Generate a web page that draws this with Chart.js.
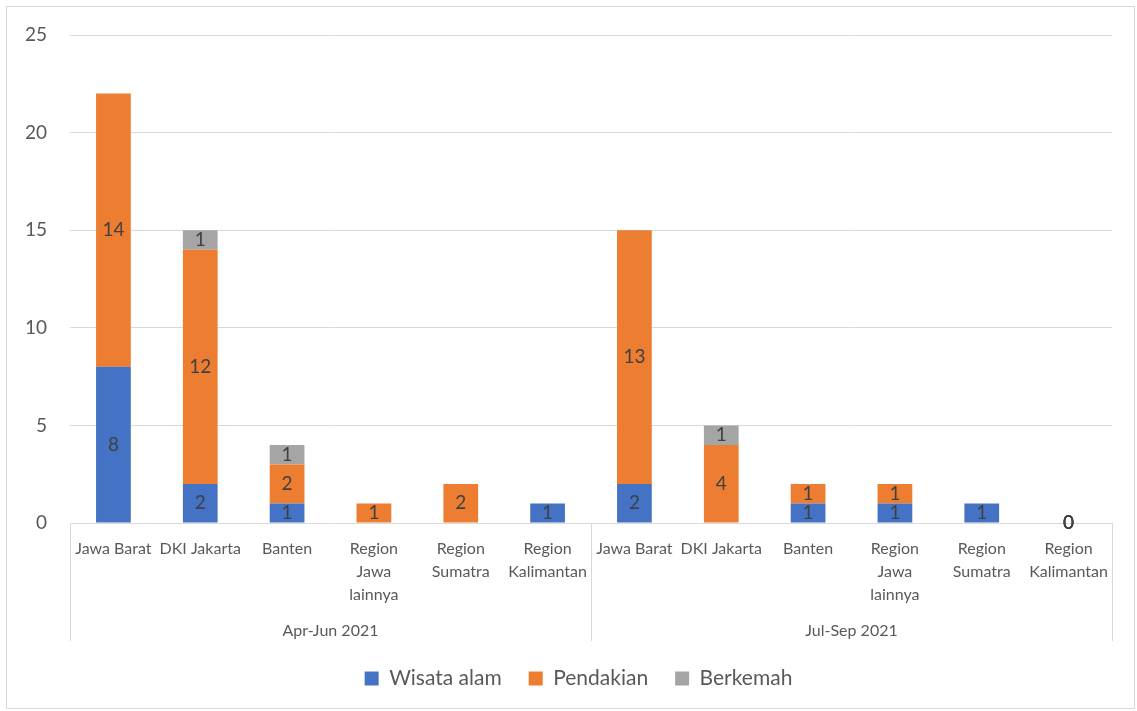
<!DOCTYPE html>
<html>
<head>
<meta charset="utf-8">
<script src="https://cdn.jsdelivr.net/npm/chart.js@4"></script>
<style>
  html, body { margin: 0; padding: 0; background: #fff; }
  #wrap { width: 1137px; height: 711px; }
</style>
</head>
<body>
<div id="wrap"><canvas id="tripChart"></canvas></div>
<script>
const regions = [
  'Jawa Barat', 'DKI Jakarta', 'Banten', ['Region', 'Jawa', 'lainnya'], ['Region', 'Sumatra'], ['Region', 'Kalimantan'],
  'Jawa Barat', 'DKI Jakarta', 'Banten', ['Region', 'Jawa', 'lainnya'], ['Region', 'Sumatra'], ['Region', 'Kalimantan']
];
const periods = ['Apr-Jun 2021', 'Jul-Sep 2021'];
const perPeriod = 6;

// null = empty cell (no bar, no label)
const wisataAlam = [8, 2, 1, null, null, 1, 2, null, 1, 1, 1, 0];
const pendakian = [14, 12, 2, 1, 2, null, 13, 4, 1, 1, null, 0];
const berkemah = [null, 1, 1, null, null, null, null, 1, null, null, null, 0];

const FONT = 'Lato';
const TEXT = '#595959';
const GRID = '#d9d9d9';

// labels in the middle of each stacked segment
const segmentLabels = {
  id: 'segmentLabels',
  afterDatasetsDraw(chart) {
    const ctx = chart.ctx;
    ctx.save();
    ctx.font = '19px ' + FONT;
    ctx.fillStyle = '#404040';
    ctx.textAlign = 'center';
    ctx.textBaseline = 'middle';
    chart.data.datasets.forEach((ds, di) => {
      const meta = chart.getDatasetMeta(di);
      meta.data.forEach((bar, i) => {
        const v = ds.data[i];
        if (v === null || v === undefined) return;
        const p = bar.getProps(['x', 'y', 'base'], true);
        ctx.fillText(String(v), p.x, (p.y + p.base) / 2);
      });
    });
    ctx.restore();
  }
};

// period labels under the category ticks, with separators
const periodAxis = {
  id: 'periodAxis',
  afterLayout(chart) {
    // centre the legend a bit further right, under the middle of the frame
    if (chart.legend) chart.legend.left += 45;
  },
  afterDraw(chart) {
    const ctx = chart.ctx;
    const x = chart.scales.x;
    const top = chart.chartArea.bottom;
    const bottom = top + 118;
    const edges = [x.left];
    for (let g = 1; g < periods.length; g++) {
      const a = x.getPixelForValue(g * perPeriod - 1);
      const b = x.getPixelForValue(g * perPeriod);
      edges.push((a + b) / 2);
    }
    edges.push(x.right);

    ctx.save();
    ctx.strokeStyle = GRID;
    ctx.lineWidth = 1;
    edges.forEach(px => {
      ctx.beginPath();
      ctx.moveTo(Math.round(px) + 0.5, top);
      ctx.lineTo(Math.round(px) + 0.5, bottom);
      ctx.stroke();
    });
    ctx.font = '16px ' + FONT;
    ctx.fillStyle = TEXT;
    ctx.textAlign = 'center';
    ctx.textBaseline = 'middle';
    periods.forEach((p, g) => {
      ctx.fillText(p, (edges[g] + edges[g + 1]) / 2, top + 108);
    });

    // outer frame
    ctx.strokeStyle = GRID;
    ctx.strokeRect(6.5, 6.5, chart.width - 9, chart.height - 9);
    ctx.restore();
  }
};

new Chart(document.getElementById('tripChart'), {
  type: 'bar',
  data: {
    labels: regions,
    datasets: [
      { label: 'Wisata alam', data: wisataAlam, backgroundColor: '#4472C4' },
      { label: 'Pendakian', data: pendakian, backgroundColor: '#ED7D31' },
      { label: 'Berkemah', data: berkemah, backgroundColor: '#A5A5A5' }
    ]
  },
  options: {
    responsive: true,
    maintainAspectRatio: false,
    animation: false,
    categoryPercentage: 1,
    barPercentage: 0.4,
    layout: {
      padding: { top: 35, right: 25, bottom: 12, left: 0 }
    },
    scales: {
      x: {
        stacked: true,
        grid: { display: false, drawTicks: false },
        border: { color: GRID },
        ticks: {
          autoSkip: false,
          maxRotation: 0,
          minRotation: 0,
          padding: 14,
          color: TEXT,
          font: { family: FONT, size: 16, lineHeight: 1.45 }
        },
        afterFit(scale) { scale.height = 118; }
      },
      y: {
        stacked: true,
        min: 0,
        max: 25,
        grid: { color: GRID, drawTicks: false },
        border: { display: false },
        ticks: {
          stepSize: 5,
          padding: 23,
          color: TEXT,
          font: { family: FONT, size: 19 }
        },
        afterFit(scale) { scale.width = 70; }
      }
    },
    plugins: {
      legend: {
        position: 'bottom',
        labels: {
          boxWidth: 14,
          boxHeight: 14,
          padding: 27,
          color: TEXT,
          font: { family: FONT, size: 21 }
        }
      },
      tooltip: { enabled: false }
    }
  },
  plugins: [segmentLabels, periodAxis]
});
</script>
</body>
</html>
